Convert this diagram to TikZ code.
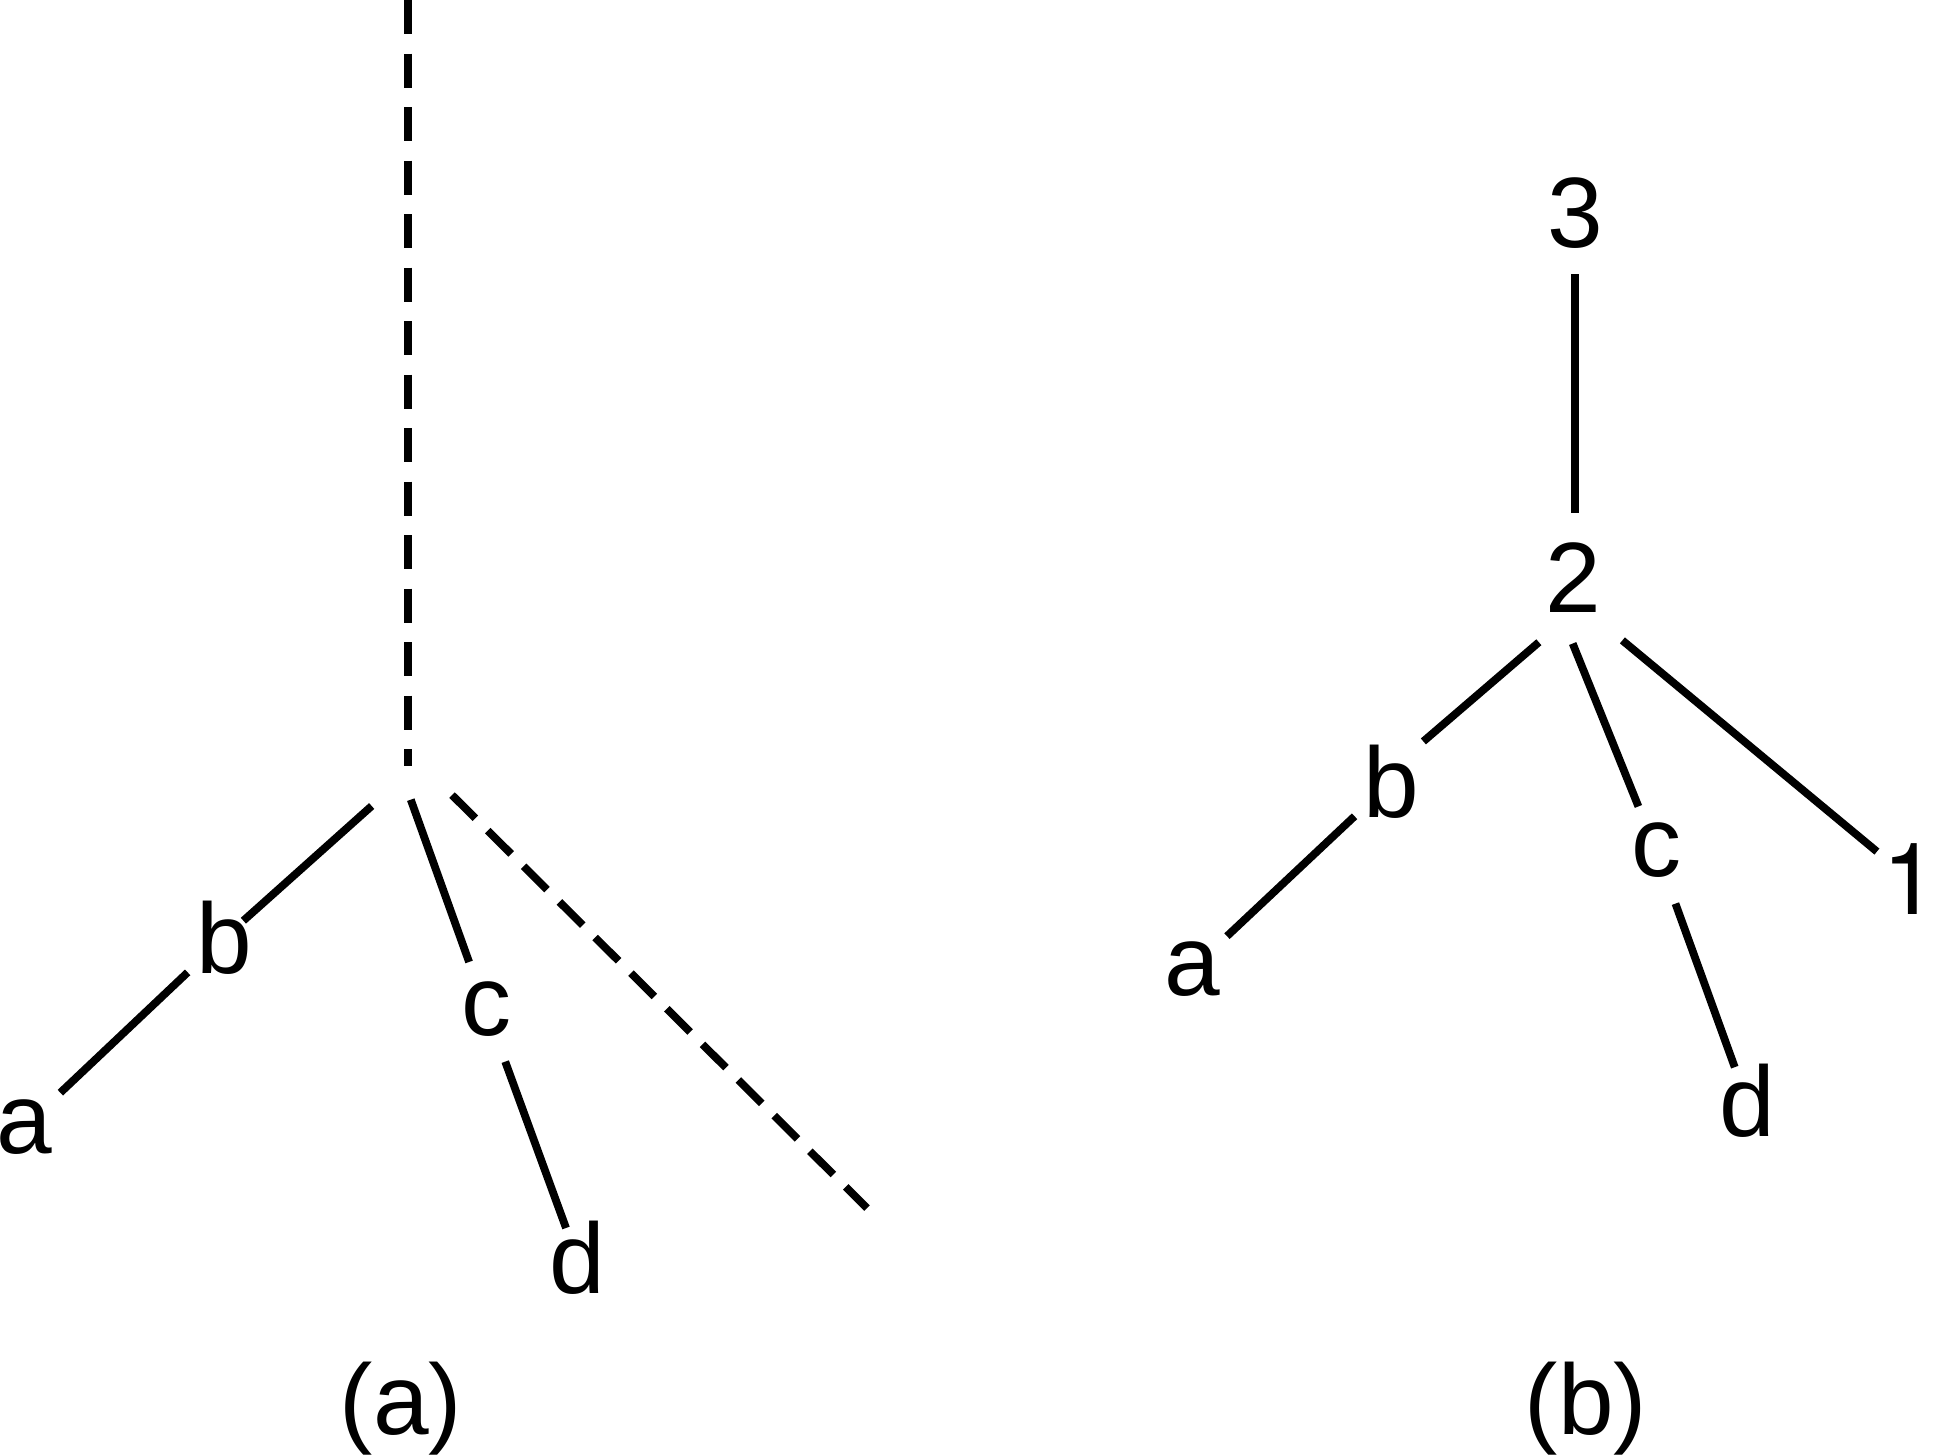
\documentclass[tikz,border=0pt]{standalone}
\usepackage{fontspec}
\setmainfont{Liberation Sans}
\newfontfamily\plainone{TeX Gyre Heros}

\begin{document}
\begin{tikzpicture}[
  x=0.1mm,
  y=-0.1mm,
  edge/.style={draw=black,line width=0.78mm},
  stemedge/.style={edge,dash pattern=on 3.4mm off 1.95mm},
  diagedge/.style={edge,dash pattern=on 3.3mm off 1.75mm},
  lbl/.style={inner sep=0pt,outer sep=0pt,font=\fontsize{28.45}{34}\selectfont}
]
  % Match the artwork frame.
  \useasboundingbox (0,0) rectangle (1938,1455);

  % (a): subtree hanging below the dashed stem, plus the dashed side branch.
  \coordinate (vtop) at (408,0);
  \coordinate (hub) at (403,778);
  \coordinate (ds) at (452,795);
  \coordinate (de) at (867,1208);
  \node[lbl] (la) at (24,1127) {a};
  \node[lbl] (lb) at (224,938) {b};
  \node[lbl] (lc) at (486,1009) {c};
  \node[lbl] (ld) at (577,1258) {d};
  \node[lbl] (lcap) at (401,1409) {(a)};

  \draw[stemedge,shorten >=1.2mm] (vtop) -- (vtop |- hub);
  \draw[diagedge] (ds) -- (de);
  \draw[edge,shorten <=4.2mm,shorten >=2.6mm] (hub) -- (lb.center);
  \draw[edge,shorten <=2.3mm,shorten >=5mm] (hub) -- (lc.center);
  \draw[edge,shorten <=5mm,shorten >=5mm] (lb.center) -- (la.center);
  \draw[edge,shorten <=5.6mm,shorten >=3.2mm] (lc.center) -- (ld.center);

  % (b): the same subtree with numbered vertices 3, 2 and 1.
  \node[lbl] (r3) at (1575,213) {3};
  \node[lbl] (r2) at (1573,578) {2};
  \node[lbl,font=\fontsize{28.45}{34}\plainone] (r1) at (1910,879) {1};
  \node[lbl] (ra) at (1192,969) {a};
  \node[lbl] (rb) at (1391,782) {b};
  \node[lbl] (rc) at (1656,850) {c};
  \node[lbl] (rd) at (1747,1101) {d};
  \node[lbl] (rcap) at (1586,1409) {(b)};

  \draw[edge,shorten <=6.1mm,shorten >=6.5mm] (r3.center) -- (r3.center |- r2.center);
  \draw[edge,shorten <=4.5mm,shorten >=0.6mm] (r2.south) -- (rb.north east);
  \draw[edge,shorten <=3.3mm,shorten >=4.7mm] (r2.250) -- (rc.center);
  \draw[edge,shorten <=4.3mm,shorten >=4.3mm] (r2.-65) -- (r1.center);
  \draw[edge,shorten <=5mm,shorten >=4.8mm] (rb.center) -- (ra.center);
  \draw[edge,shorten <=5.7mm,shorten >=3.6mm] (rc.center) -- (rd.center);
\end{tikzpicture}
\end{document}
